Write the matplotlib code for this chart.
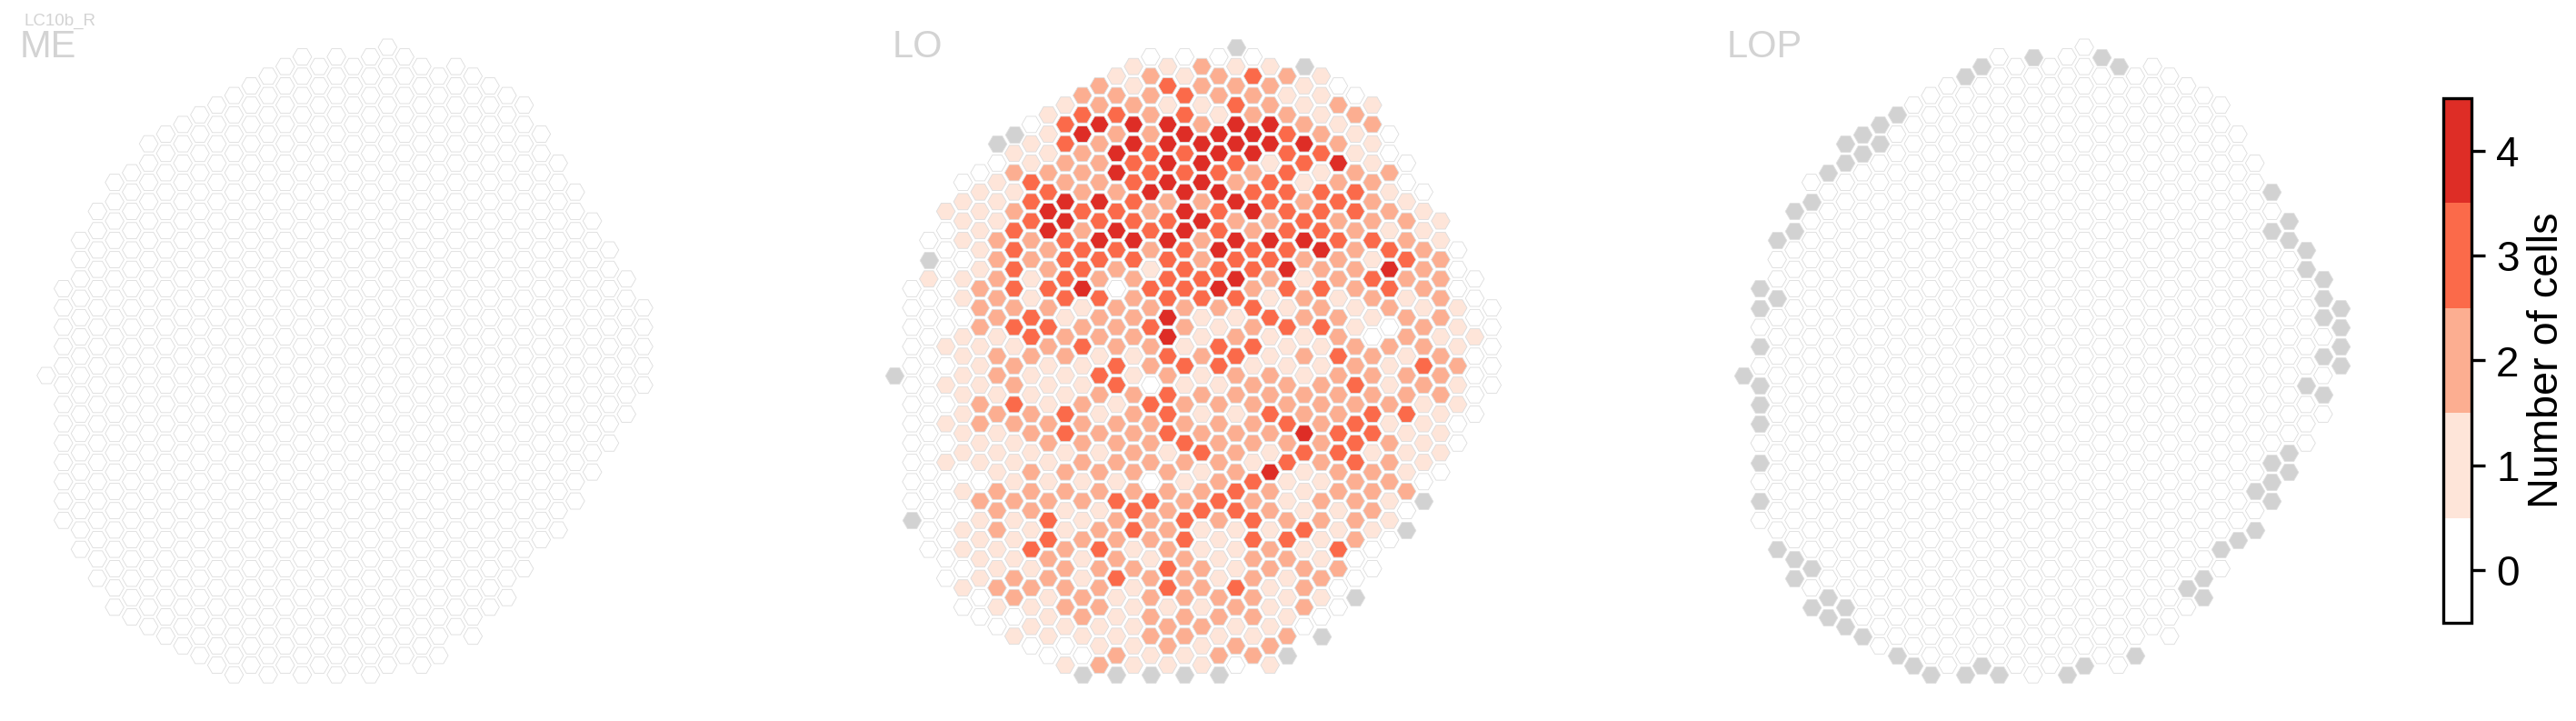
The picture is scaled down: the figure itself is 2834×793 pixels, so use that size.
import numpy as np
import matplotlib
matplotlib.use("Agg")
import matplotlib.pyplot as plt
from matplotlib.colors import ListedColormap, BoundaryNorm
from matplotlib.cm import ScalarMappable

plt.rcParams['font.family'] = ['Liberation Sans', 'DejaVu Sans']

# hex grid: one entry per row of the eye map, top to bottom, columns step by 2
first_row = -34
row_first_col = [20, 15, 14, 13, 12, 11, 10, 9, 8, 7, 6, 7, 6, 5, 4, 5, 4, 3, 4, 3, 2, 3, 2, 3, 2, 1, 2, 1, 2, 1,
                 2, 1, 2, 1, 0, 1, 2, 1, 2, 1, 2, 1, 2, 1, 2, 1, 2, 1, 2, 1, 2, 3, 2, 3, 4, 3, 4, 5, 4, 5, 6, 7,
                 8, 9, 10, 11]

# number of cells per column, x = column missing in that neuropil
lo_values = [
    "x", "0000", "11211x", "1212321", "21322210", "222322110", "1221132121", "1332312212",
    "03444244212", "x14224443210", "x13244444421", "112433443310", "0122344313410",
    "0222433323122", "01322344231220", "11322444333310", "11344322432321", "112433243433321",
    "113433342232221", "013424343233211", "0122344424443321", "0132332343342320",
    "x022333323322132", "0132321333422420", "11213223342123220", "00233403342332320",
    "01213323331212120", "002221222231212110", "00231224113221220", "002332232123310210",
    "01132224121120211", "011123221331122210", "01222113231232120", "001211323311121320",
    "x01211312122122220", "011211301122231210", "01111223222222220", "00231213222222211",
    "01223123113223310", "01222222222323110", "0112322322243311", "00112222322223210",
    "0111112132133111", "0111122222132321", "0012222212412210", "0001111012311220",
    "012222222321222", "002222332321221x", "002211323321120", "x01131223232221",
    "01211232111311x", "01132223133120", "01132312112130", "0112121212210", "0112223212220",
    "0122132212120", "122221323120", "02121222211x", "011221112120", "00121222210",
    "0111122110", "111122112x", "00112122", "0021122x", "1211101", "xxxxx",
]
lop_values = [
    "0", "0x0x", "x000x0", "x000000", "00000000", "000000000", "0000000000", "x000000000",
    "x0000000000", "x00000000000", "xx0000000000", "x00000000000", "x000000000000",
    "x000000000000", "00000000000000", "0000000000000x", "x0000000000000", "x00000000000000",
    "00000000000000x", "x0000000000000x", "x00000000000000x", "000000000000000x",
    "0000000000000000", "000000000000000x", "0000000000000000x", "x0000000000000000",
    "x000000000000000x", "x0000000000000000x", "0000000000000000x", "00000000000000000x",
    "00000000000000000", "x0000000000000000x", "0000000000000000x", "00000000000000000x",
    "x00000000000000000", "x000000000000000x", "0000000000000000x", "x0000000000000000",
    "00000000000000000", "x0000000000000000", "0000000000000000", "00000000000000000",
    "000000000000000x", "x00000000000000x", "000000000000000x", "000000000000000x",
    "00000000000000x", "x00000000000000x", "000000000000000", "000000000000000",
    "00000000000000x", "0000000000000x", "x000000000000x", "x000000000000", "x000000000000",
    "x00000000000x", "00000000000x", "x0000000000x", "xx0000000000", "x0000000000",
    "x000000000", "x000000000", "00000000", "x000000x", "x0x00x0", "xxx0x",
]
me_values = ["0" * len(r) for r in lo_values]
panel_names = ["ME", "LO", "LOP"]
panel_values = [me_values, lo_values, lop_values]
cell_colors = ["#ffffff", "#fee5d9", "#fcae91", "#fb6a4a", "#de2d26"]
cbar_ticks = [0, 1, 2, 3, 4]

W, H = 2834, 793
col_px = 18.77
row_px = 10.62
panel_x0 = [51.0, 984.3, 1917.6]
label_x = [22, 982, 1900]
y0 = 413.0


def px_box(left, top, width, height):
    return [left / W, 1 - (top + height) / H, width / W, height / H]


fig = plt.figure(figsize=(W / 300, H / 300), dpi=300)
cmap = ListedColormap(cell_colors)
norm = BoundaryNorm(np.arange(-0.5, 5.0, 1), cmap.N)

for i, values in enumerate(panel_values):
    xs, ys, vals = [], [], []
    for r, (start, row) in enumerate(zip(row_first_col, values)):
        for j, v in enumerate(row):
            xs.append(start + 2 * j)
            ys.append(first_row + r)
            vals.append(np.nan if v == "x" else int(v))
    xs, ys, vals = np.array(xs), np.array(ys), np.array(vals)
    ok = ~np.isnan(vals)

    ax = fig.add_axes(px_box(panel_x0[i] - 2 * col_px, y0 - 38 * row_px, 40 * col_px, 73 * row_px))
    ax.scatter(xs[ok], ys[ok], c=vals[ok], cmap=cmap, norm=norm, marker="H", s=24.5,
               edgecolors="#dcdcdc", linewidths=0.2, clip_on=False)
    ax.scatter(xs[~ok], ys[~ok], color="#d2d2d2", marker="H", s=24.5,
               edgecolors="#e0e0e0", linewidths=0.2, clip_on=False)
    ax.set_xlim(-2, 38)
    ax.set_ylim(35, -38)
    ax.axis("off")
    fig.text(label_x[i] / W, 1 - 63 / H, panel_names[i], fontsize=10, color="#d3d3d3", va="baseline")

fig.text(27 / W, 1 - 28 / H, "LC10b_R", fontsize=4.5, color="#d3d3d3", va="baseline")

cax = fig.add_axes(px_box(2688, 108, 31, 577))
cb = fig.colorbar(ScalarMappable(norm=norm, cmap=cmap), cax=cax, ticks=cbar_ticks, spacing="proportional")
cb.outline.set_linewidth(0.8)
cb.ax.tick_params(length=3.5, width=0.8, labelsize=11, pad=3, which="major")
cb.ax.minorticks_off()
cb.set_label("Number of cells", fontsize=11.25, labelpad=2)

fig.savefig("out.png", dpi=300)
